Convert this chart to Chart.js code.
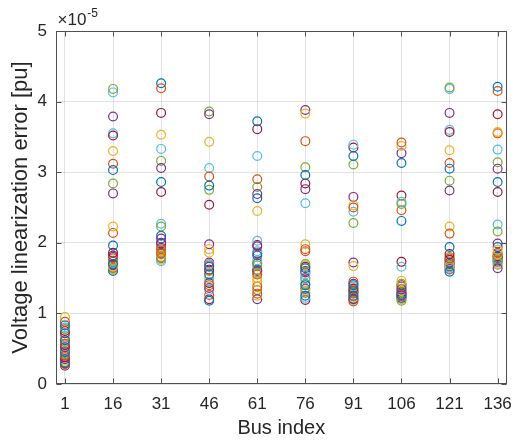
<!DOCTYPE html>
<html>
<head>
<meta charset="utf-8">
<script src="https://cdn.jsdelivr.net/npm/chart.js@4/dist/chart.umd.min.js"></script>
<style>
  html, body { margin: 0; padding: 0; background: #fff; }
  #wrap { width: 522px; height: 441px; }
</style>
</head>
<body>
<div id="wrap"><canvas id="grafico" width="522" height="441"></canvas></div>
<script>
// buses shown on the x axis
const busIndex = [1, 16, 31, 46, 61, 76, 91, 106, 121, 136]
const yTicks = [0, 1, 2, 3, 4, 5]

// errors in units of 1e-5 pu, four runs per colour, one value per bus
const blueRuns = [
  [0.83, 3.03, 4.26, 2.81, 3.72, 2.96, 3.23, 3.13, 3.05, 4.21],
  [0.62, 1.96, 2.86, 1.66, 2.63, 1.64, 1.40, 2.31, 1.94, 2.86],
  [0.45, 1.70, 2.10, 1.55, 1.82, 1.40, 1.25, 1.28, 1.59, 1.94],
  [0.30, 1.60, 1.93, 1.18, 1.62, 1.25, 1.32, 1.22, 1.70, 1.78],
]
const orangeRuns = [
  [0.88, 3.12, 4.19, 2.94, 2.90, 3.44, 2.50, 3.42, 3.13, 4.15],
  [0.57, 2.14, 1.91, 1.68, 1.55, 1.91, 1.45, 2.46, 2.13, 3.55],
  [0.40, 1.78, 1.85, 1.40, 1.38, 1.88, 1.17, 1.38, 1.78, 1.86],
  [0.28, 1.65, 1.78, 1.26, 1.28, 1.50, 1.28, 1.24, 1.63, 1.75],
]
const yellowRuns = [
  [0.95, 3.30, 3.53, 3.43, 2.45, 3.83, 2.53, 3.37, 3.31, 3.57],
  [0.68, 2.23, 1.90, 1.91, 1.50, 1.98, 1.67, 1.46, 2.23, 1.90],
  [0.50, 1.66, 1.83, 1.86, 1.45, 1.68, 1.36, 1.32, 1.68, 1.84],
  [0.33, 1.62, 1.76, 1.50, 1.25, 1.32, 1.22, 1.20, 1.75, 1.70],
]
const purpleRuns = [
  [0.72, 3.79, 3.06, 3.82, 2.69, 3.88, 2.65, 3.27, 3.84, 3.05],
  [0.52, 2.70, 2.06, 1.98, 1.95, 2.76, 1.72, 1.34, 2.74, 1.99],
  [0.35, 1.82, 2.00, 1.72, 1.60, 1.60, 1.20, 1.26, 1.72, 1.64],
  [0.26, 1.68, 1.86, 1.36, 1.20, 1.35, 1.42, 1.40, 1.66, 1.80],
]
const greenRuns = [
  [0.78, 4.18, 3.16, 3.86, 2.79, 3.07, 3.11, 2.55, 4.20, 3.14],
  [0.60, 2.84, 2.23, 2.75, 1.68, 1.70, 2.28, 1.42, 2.88, 2.16],
  [0.42, 1.73, 1.80, 1.60, 1.58, 1.42, 1.30, 1.18, 1.80, 1.76],
  [0.31, 1.64, 1.88, 1.43, 1.33, 1.29, 1.24, 1.30, 1.69, 1.69],
]
const cyanRuns = [
  [0.80, 4.13, 3.33, 3.06, 3.23, 2.56, 3.39, 2.58, 4.18, 3.32],
  [0.65, 3.55, 2.27, 1.70, 2.03, 1.55, 2.44, 1.66, 3.60, 2.26],
  [0.47, 1.75, 1.74, 1.45, 1.88, 1.48, 1.38, 1.35, 1.65, 1.72],
  [0.36, 1.63, 1.79, 1.33, 1.75, 1.22, 1.19, 1.21, 1.62, 1.82],
]
const redRuns = [
  [0.75, 3.52, 3.84, 2.54, 3.61, 2.84, 3.35, 2.67, 3.57, 3.82],
  [0.55, 1.86, 2.72, 1.62, 1.97, 1.66, 1.35, 1.73, 1.84, 2.72],
  [0.38, 1.80, 1.99, 1.43, 1.85, 1.58, 1.30, 1.30, 1.76, 1.81],
  [0.29, 1.69, 1.84, 1.20, 1.71, 1.19, 1.21, 1.25, 1.67, 1.73],
]

// matlab default colour order
const colourGroups = [
  { color: "#0072BD", runs: blueRuns },
  { color: "#D95319", runs: orangeRuns },
  { color: "#EDB120", runs: yellowRuns },
  { color: "#7E2F8E", runs: purpleRuns },
  { color: "#77AC30", runs: greenRuns },
  { color: "#4DBEEE", runs: cyanRuns },
  { color: "#A2142F", runs: redRuns },
]

const fontFam = "'Liberation Sans', Arial, Helvetica, sans-serif"
const textColor = "#262626"
const gridColor = "rgba(38,38,38,0.13)"

let datasets = []
for (let r = 0; r < 4; r++) {
  colourGroups.forEach((g) => {
    datasets.push({
      data: g.runs[r].map((v, i) => ({ x: busIndex[i], y: v })),
      borderColor: g.color,
      backgroundColor: "rgba(0,0,0,0)",
      pointRadius: 4.4,
      pointHoverRadius: 4.4,
      pointBorderWidth: 1.2,
      showLine: false,
    })
  })
}

// box round the axes, inward tick marks, and the x10^-5 multiplier
const boxPlugin = {
  id: "boxPlugin",
  afterDraw(chart) {
    const { ctx, chartArea: a, scales: { x, y } } = chart
    const L = Math.round(a.left) + 0.5
    const R = Math.round(a.right) - 0.5
    const T = Math.round(a.top) + 0.5
    const B = Math.round(a.bottom) - 0.5
    ctx.save()
    ctx.strokeStyle = "#505050"
    ctx.lineWidth = 1
    ctx.strokeRect(L, T, R - L, B - T)
    ctx.beginPath()
    busIndex.forEach((v) => {
      const px = Math.round(x.getPixelForValue(v)) + 0.5
      ctx.moveTo(px, B); ctx.lineTo(px, B - 5)
      ctx.moveTo(px, T); ctx.lineTo(px, T + 5)
    })
    yTicks.forEach((v) => {
      const py = Math.round(y.getPixelForValue(v)) + 0.5
      ctx.moveTo(L, py); ctx.lineTo(L + 5, py)
      ctx.moveTo(R, py); ctx.lineTo(R - 5, py)
    })
    ctx.stroke()

    ctx.fillStyle = textColor
    ctx.textBaseline = "alphabetic"
    ctx.font = "17px " + fontFam
    ctx.fillText("\u00d710", L + 1, T - 7)
    const w = ctx.measureText("\u00d710").width
    ctx.font = "12px " + fontFam
    ctx.fillText("-5", L + 1 + w + 1, T - 15)
    ctx.restore()
  },
}

const canvas = document.getElementById("grafico")

new Chart(canvas, {
  type: "scatter",
  data: { datasets: datasets },
  options: {
    responsive: false,
    animation: false,
    devicePixelRatio: 1,
    layout: { padding: { top: 31, right: 10, bottom: 0, left: 0 } },
    plugins: {
      legend: { display: false },
      tooltip: { enabled: false },
    },
    scales: {
      x: {
        type: "linear",
        min: -1.8,
        max: 138.8,
        afterBuildTicks: (s) => { s.ticks = busIndex.map((v) => ({ value: v })) },
        afterFit: (s) => { s.height = 57 },
        ticks: {
          autoSkip: false,
          maxRotation: 0,
          padding: 10,
          color: textColor,
          font: { family: fontFam, size: 17 },
        },
        grid: { color: gridColor, drawTicks: false },
        border: { display: false },
        title: {
          display: true,
          text: "Bus index",
          color: textColor,
          font: { family: fontFam, size: 20 },
          padding: { top: 0, bottom: 1 },
        },
      },
      y: {
        min: 0,
        max: 5,
        afterBuildTicks: (s) => { s.ticks = yTicks.map((v) => ({ value: v })) },
        afterFit: (s) => { s.width = 56 },
        ticks: {
          padding: 9,
          color: textColor,
          font: { family: fontFam, size: 17 },
        },
        grid: { color: gridColor, drawTicks: false },
        border: { display: false },
        title: {
          display: true,
          text: "Voltage linearization error [pu]",
          color: textColor,
          font: { family: fontFam, size: 22 },
          padding: { top: 8, bottom: 0 },
        },
      },
    },
  },
  plugins: [boxPlugin],
})
</script>
</body>
</html>
